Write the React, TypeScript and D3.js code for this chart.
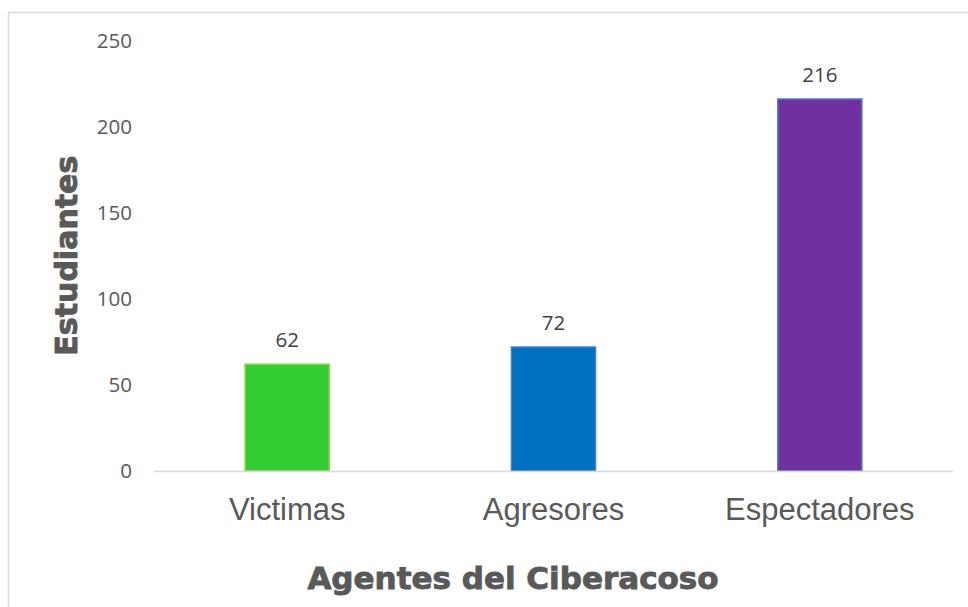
import React from "react";
import * as d3 from "d3";

const categories: string[] = ["Victimas", "Agresores", "Espectadores"];
const values: number[] = [62, 72, 216];
const fills: string[] = ["#33CC33", "#0070C0", "#7030A0"];
const strokes: string[] = ["#92D050", "#4F81BD", "#4F81BD"];
const yTicks: number[] = [0, 50, 100, 150, 200, 250];
const xTitle = "Agentes del Ciberacoso";
const yTitle = "Estudiantes";

const W = 968;
const H = 607;
const plot = { left: 154, right: 953, top: 40.4, bottom: 471 };

export default function App() {
  const x = d3
    .scaleBand<string>()
    .domain(categories)
    .range([plot.left, plot.right])
    .paddingInner(0.684)
    .paddingOuter(0.342);
  const y = d3.scaleLinear().domain([0, 250]).range([plot.bottom, plot.top]);

  return (
    <svg
      width={W}
      height={H}
      style={{ position: "absolute", left: 0, top: 0, background: "#fff" }}
    >
      <rect x={8.5} y={12.5} width={980} height={620} fill="#fff" stroke="#D9D9D9" strokeWidth={1.5} />
      {yTicks.map((t) => (
        <text
          key={t}
          x={132}
          y={y(t)}
          dy="0.36em"
          textAnchor="end"
          fontFamily="'Open Sans', sans-serif"
          fontSize={20.5}
          fill="#595959"
        >
          {t}
        </text>
      ))}
      {categories.map((c, i) => {
        const bx = x(c) as number;
        const bw = x.bandwidth();
        return (
          <g key={c}>
            <rect
              x={bx}
              y={y(values[i])}
              width={bw}
              height={y(0) - y(values[i])}
              fill={fills[i]}
              stroke={strokes[i]}
              strokeWidth={1.5}
            />
            <text
              x={bx + bw / 2}
              y={y(values[i]) - 17}
              textAnchor="middle"
              fontFamily="'Open Sans', sans-serif"
              fontSize={20.5}
              fill="#404040"
            >
              {values[i]}
            </text>
            <text
              x={bx + bw / 2}
              y={520}
              textAnchor="middle"
              fontFamily="'Liberation Sans', Arial, sans-serif"
              fontSize={31}
              fill="#595959"
            >
              {c}
            </text>
          </g>
        );
      })}
      <line
        x1={plot.left}
        x2={plot.right}
        y1={plot.bottom + 0.5}
        y2={plot.bottom + 0.5}
        stroke="#D9D9D9"
        strokeWidth={1.5}
      />
      <text
        x={513}
        y={589}
        textAnchor="middle"
        fontFamily="'DejaVu Sans', sans-serif"
        fontWeight="bold"
        fontSize={31}
        fill="#595959"
        stroke="#595959"
        strokeWidth={0.9}
      >
        {xTitle}
      </text>
      <text
        transform={`translate(77, ${(plot.top + plot.bottom) / 2}) rotate(-90)`}
        textAnchor="middle"
        fontFamily="'DejaVu Sans', sans-serif"
        fontWeight="bold"
        fontSize={30}
        fill="#595959"
        stroke="#595959"
        strokeWidth={0.9}
      >
        {yTitle}
      </text>
    </svg>
  );
}
